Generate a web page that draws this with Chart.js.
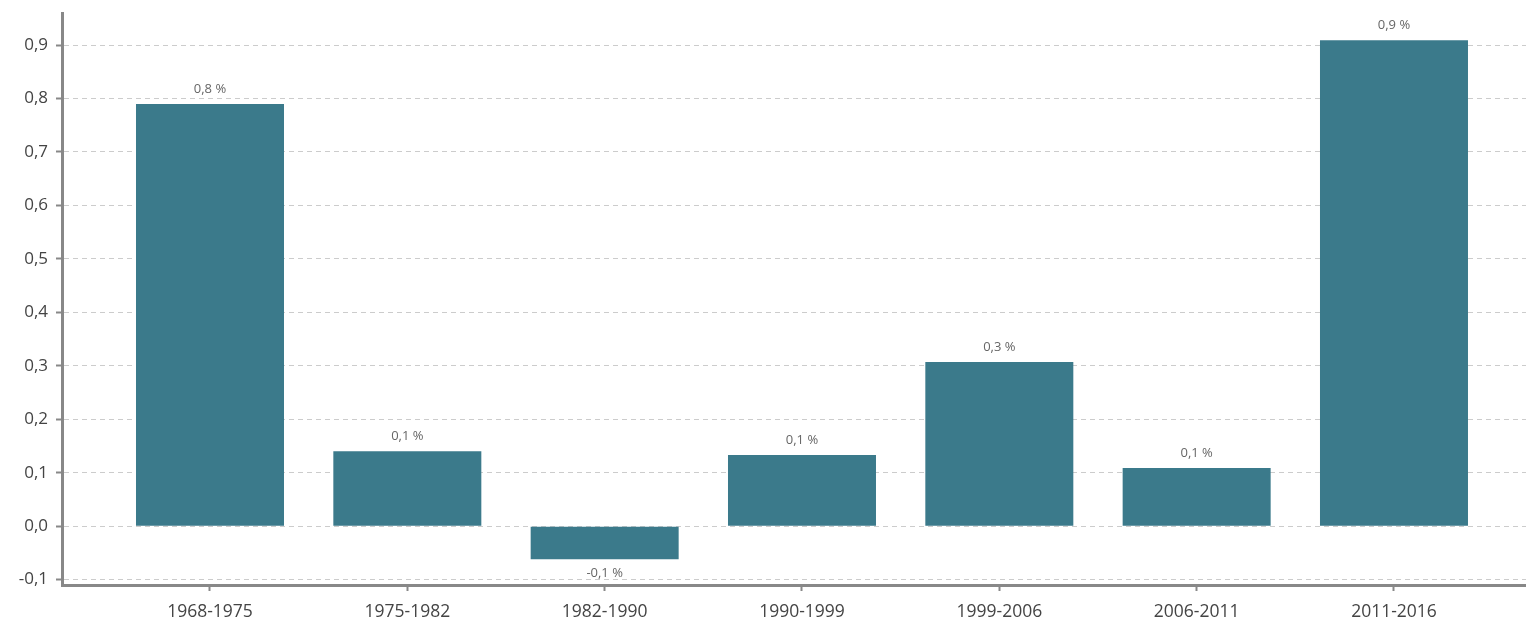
<html>
<head>
  <title>Chart</title>
  <script src="https://cdn.jsdelivr.net/npm/chart.js"></script>
  <style>
    body { margin: 0; background: #fff; }
    #wrap { width: 1526px; height: 624px; }
  </style>
</head>
<body>
  <div id="wrap"><canvas id="barChart"></canvas></div>
  <script>
    // data
    const periods = ['1968-1975', '1975-1982', '1982-1990', '1990-1999', '1999-2006', '2006-2011', '2011-2016'];
    const growth = [0.79, 0.14, -0.062, 0.133, 0.307, 0.109, 0.909];
    const yTicks = [-0.1, 0, 0.1, 0.2, 0.3, 0.4, 0.5, 0.6, 0.7, 0.8, 0.9];

    const fmt = v => v.toFixed(1).replace('.', ',');

    // value labels above / below the bars
    const barLabels = {
      id: 'barLabels',
      afterDatasetsDraw(chart) {
        const ctx = chart.ctx;
        const meta = chart.getDatasetMeta(0);
        ctx.save();
        ctx.font = '13px "Open Sans"';
        ctx.fillStyle = '#666';
        ctx.textAlign = 'center';
        ctx.textBaseline = 'middle';
        meta.data.forEach((bar, i) => {
          const v = growth[i];
          const y = v >= 0 ? bar.y - 15 : bar.y + 14;
          ctx.fillText(fmt(v) + ' %', bar.x, y);
        });
        ctx.restore();
      }
    };

    new Chart(document.getElementById('barChart'), {
      type: 'bar',
      data: {
        datasets: [{
          data: growth.map((v, i) => ({ x: i, y: v })),
          backgroundColor: '#3b7a8b',
          categoryPercentage: 1,
          barPercentage: 0.75
        }]
      },
      options: {
        responsive: true,
        maintainAspectRatio: false,
        animation: false,
        layout: { padding: { top: 13, right: 0, left: 0, bottom: 0 } },
        plugins: { legend: { display: false }, tooltip: { enabled: false } },
        scales: {
          x: {
            type: 'linear',
            offset: false,
            min: -0.75,
            max: 6.669,
            afterBuildTicks: s => { s.ticks = periods.map((p, i) => ({ value: i })); },
            afterFit: s => { s.height = 39; s.paddingLeft = 0; s.paddingRight = 0; },
            ticks: {
              callback: v => periods[v],
              color: '#444',
              font: { family: '"Open Sans"', size: 17.5 },
              padding: 11,
              maxRotation: 0,
              autoSkip: false
            },
            grid: {
              offset: false,
              drawOnChartArea: false,
              drawTicks: true,
              tickLength: 6,
              tickColor: '#888',
              tickWidth: 2
            },
            border: { color: '#888', width: 3 }
          },
          y: {
            min: -0.11,
            max: 0.96,
            afterBuildTicks: s => { s.ticks = yTicks.map(v => ({ value: v })); },
            afterFit: s => { s.width = 62; s.paddingTop = 0; s.paddingBottom = 0; },
            ticks: {
              callback: v => fmt(v),
              color: '#444',
              font: { family: '"Open Sans"', size: 17 },
              padding: 8
            },
            grid: {
              color: '#ccc',
              lineWidth: 1,
              tickLength: 6,
              tickColor: '#888',
              tickWidth: 2,
              tickBorderDash: []
            },
            border: { color: '#888', width: 3, dash: [5, 4] }
          }
        }
      },
      plugins: [barLabels]
    });
  </script>
</body>
</html>
